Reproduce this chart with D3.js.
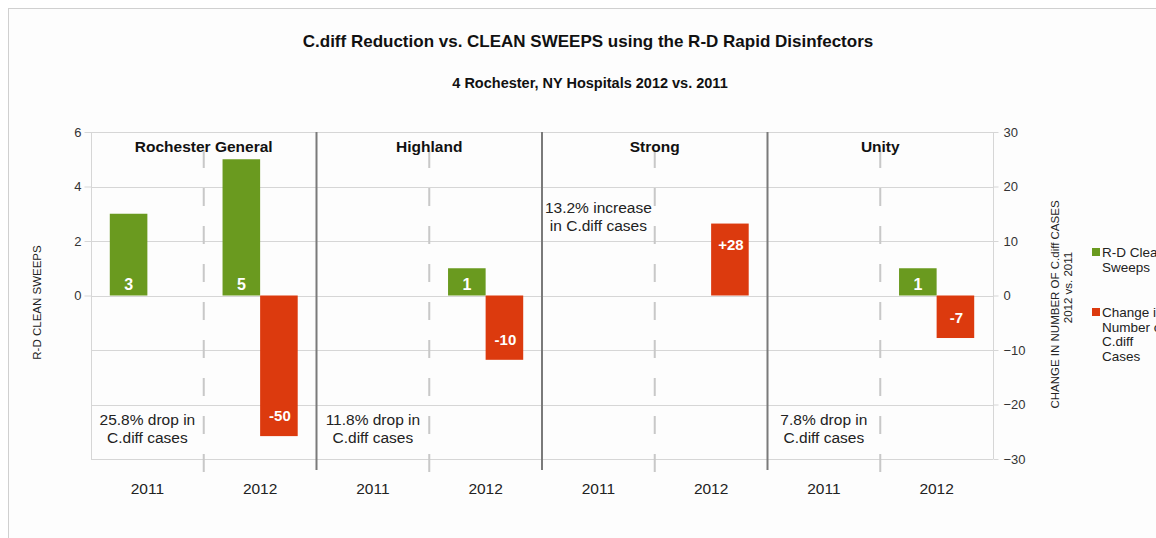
<!DOCTYPE html>
<html>
<head>
<meta charset="utf-8">
<script src="https://cdn.jsdelivr.net/npm/d3@7"></script>
<style>
  body { margin: 0; background: #fff; }
  svg { font-family: "Liberation Sans", Arial, sans-serif; }
</style>
</head>
<body>
<div id="chart"></div>
<script>
// chart data
const hospitals = ["Rochester General", "Highland", "Strong", "Unity"];
const years = ["2011", "2012"];
// R-D clean sweeps, per hospital per year
const sweeps = [[3, 5], [0, 1], [0, 0], [0, 1]];
// percent change in C.diff cases 2012 vs 2011 (bar height, right axis)
const pctChange = [-25.8, -11.8, 13.2, -7.8];
// change in number of cases (bar labels)
const caseChange = ["-50", "-10", "+28", "-7"];
const notes = [
  ["25.8% drop in", "C.diff cases"],
  ["11.8% drop in", "C.diff cases"],
  ["13.2% increase", "in C.diff cases"],
  ["7.8% drop in", "C.diff cases"]
];
const leftTicks = [0, 2, 4, 6];
const rightTicks = [-30, -20, -10, 0, 10, 20, 30];
const legendItems = [
  { label: ["R-D Clean", "Sweeps"], color: "#6a9a1f" },
  { label: ["Change in", "Number of", "C.diff", "Cases"], color: "#dc3a0e" }
];

const W = 1156, H = 538;
const plot = { left: 91, right: 993, top: 132, bottom: 459 };
const green = "#6a9a1f", red = "#dc3a0e";

const svg = d3.select("#chart").append("svg")
  .attr("width", W)
  .attr("height", H);

// outer frame
svg.append("rect")
  .attr("x", 8.5).attr("y", 8.5)
  .attr("width", 1300).attr("height", 600)
  .attr("fill", "#fdfdfd")
  .attr("stroke", "#d0d0d0");

// categories: one per hospital/year
const cats = [];
hospitals.forEach((h, i) => years.forEach((y, j) => cats.push({ h: i, y: j, key: h + "|" + y })));

const x = d3.scaleBand()
  .domain(cats.map(d => d.key))
  .range([plot.left, plot.right]);

const yL = d3.scaleLinear().domain([-6, 6]).range([plot.bottom, plot.top]);
const yR = d3.scaleLinear().domain([-30, 30]).range([plot.bottom, plot.top]);

// gridlines
svg.append("g").selectAll("line")
  .data(rightTicks)
  .join("line")
    .attr("x1", plot.left).attr("x2", plot.right)
    .attr("y1", d => Math.round(yR(d)) + 0.5).attr("y2", d => Math.round(yR(d)) + 0.5)
    .attr("stroke", "#d6d6d6");

// plot frame (left, right)
svg.append("line")
  .attr("x1", plot.left + 0.5).attr("x2", plot.left + 0.5)
  .attr("y1", plot.top).attr("y2", plot.bottom)
  .attr("stroke", "#d6d6d6");
svg.append("line")
  .attr("x1", plot.right + 0.5).attr("x2", plot.right + 0.5)
  .attr("y1", plot.top).attr("y2", plot.bottom)
  .attr("stroke", "#d6d6d6");

// left axis
const leftAxis = svg.append("g")
  .attr("transform", "translate(" + (plot.left + 0.5) + ",0)")
  .call(d3.axisLeft(yL).tickValues(leftTicks).tickSize(7).tickPadding(3));
leftAxis.select(".domain").remove();
leftAxis.selectAll(".tick line").attr("stroke", "#d6d6d6");
leftAxis.selectAll(".tick text")
  .attr("fill", "#333").style("font-size", "13px")
  .style("font-family", "Liberation Sans, Arial, sans-serif");

// right axis
const rightAxis = svg.append("g")
  .attr("transform", "translate(" + (plot.right + 0.5) + ",0)")
  .call(d3.axisRight(yR).tickValues(rightTicks).tickSize(5).tickPadding(5));
rightAxis.select(".domain").remove();
rightAxis.selectAll(".tick line").attr("stroke", "#d6d6d6");
rightAxis.selectAll(".tick text")
  .attr("fill", "#333").style("font-size", "13px")
  .style("font-family", "Liberation Sans, Arial, sans-serif");

// dashed dividers between 2011 and 2012 in each hospital
svg.append("g").selectAll("line")
  .data(hospitals)
  .join("line")
    .attr("x1", d => x(d + "|2012"))
    .attr("x2", d => x(d + "|2012"))
    .attr("y1", plot.top).attr("y2", plot.bottom + 13)
    .attr("stroke", "#c8c8c8")
    .attr("stroke-width", 2)
    .attr("stroke-dasharray", "18,20")
    .attr("stroke-dashoffset", 20);

// solid separators between hospitals
svg.append("g").selectAll("line")
  .data(hospitals.slice(1))
  .join("line")
    .attr("x1", d => x(d + "|2011"))
    .attr("x2", d => x(d + "|2011"))
    .attr("y1", plot.top).attr("y2", plot.bottom + 11)
    .attr("stroke", "#7a7a7a")
    .attr("stroke-width", 2);

const bw = x.bandwidth() / 3;

// green bars: clean sweeps
const sweepData = cats.map(c => ({ c, v: sweeps[c.h][c.y] })).filter(d => d.v > 0);
svg.append("g").selectAll("rect")
  .data(sweepData)
  .join("rect")
    .attr("x", d => x(d.c.key) + x.bandwidth() / 2 - bw)
    .attr("y", d => yL(d.v))
    .attr("width", bw)
    .attr("height", d => yL(0) - yL(d.v))
    .attr("fill", green);

svg.append("g").selectAll("text")
  .data(sweepData)
  .join("text")
    .attr("x", d => x(d.c.key) + x.bandwidth() / 2 - bw / 2)
    .attr("y", yL(0) - 6)
    .attr("text-anchor", "middle")
    .attr("fill", "#fff")
    .style("font-weight", "bold")
    .style("font-size", "16px")
    .text(d => d.v);

// red bars: change in C.diff cases (2012 column)
const changeData = hospitals.map((h, i) => ({ key: h + "|2012", v: pctChange[i], label: caseChange[i] }));
svg.append("g").selectAll("rect")
  .data(changeData)
  .join("rect")
    .attr("x", d => x(d.key) + x.bandwidth() / 2)
    .attr("y", d => Math.min(yR(d.v), yR(0)))
    .attr("width", bw)
    .attr("height", d => Math.abs(yR(d.v) - yR(0)))
    .attr("fill", red);

svg.append("g").selectAll("text")
  .data(changeData)
  .join("text")
    .attr("x", d => x(d.key) + x.bandwidth() / 2 + bw / 2 + 1)
    .attr("y", d => d.v < 0 ? yR(d.v) - 15 : yR(d.v) + 26)
    .attr("text-anchor", "middle")
    .attr("fill", "#fff")
    .style("font-weight", "bold")
    .style("font-size", "15px")
    .text(d => d.label);

// hospital names
svg.append("g").selectAll("text")
  .data(hospitals)
  .join("text")
    .attr("x", d => x(d + "|2012"))
    .attr("y", 152)
    .attr("text-anchor", "middle")
    .attr("fill", "#111")
    .style("font-weight", "bold")
    .style("font-size", "15.5px")
    .text(d => d);

// notes under 2011 column
const noteG = svg.append("g").selectAll("text")
  .data(hospitals.map((h, i) => ({ key: h + "|2011", lines: notes[i], v: pctChange[i] })))
  .join("text")
    .attr("x", d => x(d.key) + x.bandwidth() / 2)
    .attr("y", d => d.v < 0 ? 425 : 213)
    .attr("text-anchor", "middle")
    .attr("fill", "#222")
    .style("font-size", "15.5px");
noteG.selectAll("tspan")
  .data(d => d.lines.map(l => ({ l, x: x(d.key) + x.bandwidth() / 2 })))
  .join("tspan")
    .attr("x", d => d.x)
    .attr("dy", (d, i) => i === 0 ? 0 : 18)
    .text(d => d.l);

// x labels
svg.append("g").selectAll("text")
  .data(cats)
  .join("text")
    .attr("x", d => x(d.key) + x.bandwidth() / 2)
    .attr("y", 494)
    .attr("text-anchor", "middle")
    .attr("fill", "#222")
    .style("font-size", "15.5px")
    .text(d => years[d.y]);

// titles
svg.append("text")
  .attr("x", 588).attr("y", 47)
  .attr("text-anchor", "middle")
  .attr("fill", "#111")
  .style("font-weight", "bold")
  .style("font-size", "17px")
  .text("C.diff Reduction vs. CLEAN SWEEPS using the R-D Rapid Disinfectors");

svg.append("text")
  .attr("x", 590).attr("y", 88)
  .attr("text-anchor", "middle")
  .attr("fill", "#111")
  .style("font-weight", "bold")
  .style("font-size", "14.5px")
  .text("4 Rochester, NY Hospitals 2012 vs. 2011");

// axis titles
svg.append("text")
  .attr("transform", "translate(41," + (yL(0) + 7) + ") rotate(-90)")
  .attr("text-anchor", "middle")
  .attr("fill", "#222")
  .style("font-size", "11.5px")
  .text("R-D CLEAN SWEEPS");

const rt = svg.append("g")
  .attr("fill", "#222")
  .style("font-size", "11.5px");
rt.append("text")
  .attr("transform", "translate(1059," + (yR(0) + 9) + ") rotate(-90)")
  .attr("text-anchor", "middle")
  .text("CHANGE IN NUMBER OF C.diff CASES");
rt.append("text")
  .attr("transform", "translate(1072," + (yR(0) - 8) + ") rotate(-90)")
  .attr("text-anchor", "middle")
  .text("2012 vs. 2011");

// legend
const lg = svg.append("g").attr("transform", "translate(1092,0)");
const legendY = [248, 308];
legendItems.forEach((item, i) => {
  lg.append("rect")
    .attr("x", 0).attr("y", legendY[i])
    .attr("width", 8).attr("height", 8)
    .attr("fill", item.color);
  const t = lg.append("text")
    .attr("y", legendY[i] + 9)
    .attr("fill", "#222")
    .style("font-size", "13.5px");
  t.selectAll("tspan")
    .data(item.label)
    .join("tspan")
      .attr("x", 10)
      .attr("dy", (d, k) => k === 0 ? 0 : 14.5)
      .text(d => d);
});
</script>
</body>
</html>
